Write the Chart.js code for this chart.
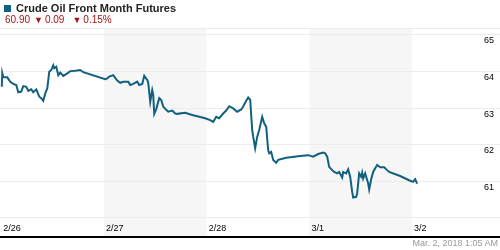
<!DOCTYPE html>
<html>
<head>
<meta charset="utf-8">
<script src="https://cdn.jsdelivr.net/npm/chart.js@4/dist/chart.umd.min.js"></script>
<style>
  html, body { margin: 0; padding: 0; background: #fff; }
  #wrap { position: relative; width: 500px; height: 250px; overflow: hidden; font-family: "Liberation Sans", Arial, sans-serif; }
  #c { position: absolute; left: 0; top: 0; }
  #title { position: absolute; left: 4px; top: 2px; font-size: 11px; font-weight: bold; color: #222; white-space: nowrap; }
  #title .sq { display: inline-block; width: 7px; height: 7px; background: #12607f; margin-right: 5px; vertical-align: 0px; }
  #quote { position: absolute; left: 5px; top: 14px; font-size: 10px; color: #aa1111; white-space: nowrap; }
  #quote .tri { font-size: 9px; margin: 0 2px 0 4px; }
  #sep { position: absolute; left: 0; top: 28px; width: 500px; height: 1px; background: #ececec; }
  #stamp { position: absolute; right: 2px; top: 238px; font-size: 9px; color: #999; white-space: nowrap; }
</style>
</head>
<body>
<div id="wrap">
  <canvas id="c" width="500" height="250"></canvas>
  <div id="sep"></div>
  <div id="title"><span class="sq"></span>Crude Oil Front Month Futures</div>
  <div id="quote">60.90<span class="tri">&#9660;</span>0.09<span class="tri" style="margin-left:8px">&#9660;</span>0.15%</div>
  <div id="stamp">Mar. 2, 2018 1:05 AM</div>
</div>
<script>
// Hours since 2/26 00:00
const hours = [0.12,0.23,0.47,1.40,2.10,2.80,3.50,3.97,4.67,5.14,5.84,6.31,7.01,7.48,8.18,8.88,9.34,9.81,10.28,10.75,11.21,11.68,12.15,12.38,12.85,13.32,13.78,14.48,15.42,16.12,17.29,18.45,19.16,24.30,24.76,25.23,26.16,27.10,27.80,28.50,29.67,30.14,30.84,31.77,32.24,32.94,33.41,34.11,34.34,34.81,35.27,35.51,35.74,36.21,36.91,37.38,37.84,38.54,39.01,39.95,40.65,41.11,42.98,44.62,47.65,48.82,49.52,50.22,50.92,51.86,52.56,53.26,54.19,55.13,56.06,56.53,57.23,57.70,58.17,58.63,58.87,59.33,59.80,60.27,60.97,61.44,61.90,62.37,62.61,63.07,63.54,64.24,64.71,66.58,69.85,71.72,72.88,74.05,75.22,75.69,76.16,76.62,77.32,77.79,78.49,78.96,79.66,79.89,80.59,81.06,81.53,81.99,82.23,82.93,83.16,83.63,84.10,84.33,84.57,85.03,85.50,85.73,85.97,86.44,86.90,87.37,87.84,88.54,89.47,90.17,90.64,93.21,95.54,96.24,96.71,97.18];
const prices = [63.58,63.96,63.85,63.84,63.72,63.66,63.63,63.43,63.45,63.60,63.58,63.47,63.51,63.43,63.51,63.31,63.27,63.20,63.40,63.54,63.99,64.04,64.17,64.09,64.13,63.90,63.97,63.88,63.95,64.01,64.02,64.04,63.98,63.79,63.81,63.86,63.90,63.75,63.69,63.72,63.72,63.63,63.66,63.72,63.63,63.66,63.88,63.77,63.69,63.17,63.49,63.36,62.84,62.97,63.27,63.22,63.04,62.95,62.90,62.93,62.85,62.84,62.87,62.81,62.72,62.67,62.62,62.76,62.72,62.85,62.93,63.05,62.99,62.90,62.96,63.04,63.20,63.29,63.22,62.40,62.21,61.90,62.21,62.40,62.76,62.58,62.49,61.85,61.76,61.80,61.58,61.50,61.58,61.64,61.69,61.71,61.67,61.74,61.78,61.76,61.67,61.39,61.30,61.25,61.21,61.25,61.10,61.25,61.21,61.32,61.12,60.71,60.55,60.57,60.66,61.21,61.12,61.23,61.07,61.21,61.03,60.94,60.77,61.05,61.25,61.35,61.44,61.38,61.38,61.30,61.25,61.14,61.01,60.98,61.05,60.93];
const dateLabels = ['2/26','2/27','2/28','3/1','3/2'];
const dayStarts = [0,24,48,72,96];
const shadedDays = [1,3];
const yTicks = [60,61,62,63,64,65];

const points = hours.map((h,i)=>({x:h,y:prices[i]}));

const bands = {
  id: 'bands',
  beforeDraw(chart) {
    const {ctx, chartArea, scales} = chart;
    ctx.save();
    ctx.fillStyle = '#f6f6f6';
    shadedDays.forEach(d => {
      const x0 = scales.x.getPixelForValue(dayStarts[d]);
      const x1 = scales.x.getPixelForValue(dayStarts[d] + 24);
      ctx.fillRect(x0, chartArea.top, x1 - x0, chartArea.bottom - chartArea.top);
    });
    ctx.restore();
  }
};

new Chart(document.getElementById('c'), {
  type: 'line',
  data: { datasets: [{ data: points, borderColor: '#12607f', borderWidth: 2, pointRadius: 0, tension: 0, fill: false }] },
  options: {
    responsive: false,
    animation: false,
    layout: { padding: { top: 28, bottom: 13, left: 0, right: 0 } },
    plugins: { legend: { display: false }, tooltip: { enabled: false } },
    scales: {
      x: {
        type: 'linear', position: 'bottom',
        min: -0.3, max: 116.54,
        afterBuildTicks(s) { s.ticks = dayStarts.map(v => ({value: v})); },
        afterFit(s) { s.height = 0; s.paddingLeft = 0; s.paddingRight = 0; },
        grid: { display: false },
        border: { display: true, color: '#000', width: 2 },
        ticks: {
          mirror: true, align: 'start', labelOffset: 2, padding: 3,
          color: '#000', font: { family: 'Liberation Sans', size: 9 },
          maxRotation: 0, autoSkip: false,
          callback: (v) => { const i = dayStarts.indexOf(v); return i >= 0 ? dateLabels[i] : ''; }
        }
      },
      y: {
        type: 'linear', position: 'right',
        min: 59.47, max: 65.19,
        afterBuildTicks(s) { s.ticks = yTicks.map(v => ({value: v})); },
        afterFit(s) { s.width = 0; },
        grid: { color: '#ececec', lineWidth: 1, drawTicks: false },
        border: { display: false },
        ticks: {
          mirror: true, padding: -6, labelOffset: 6,
          color: '#000', font: { family: 'Liberation Sans', size: 9 },
          callback: (v) => v === 60 ? '' : String(v)
        }
      }
    }
  },
  plugins: [bands]
});
</script>
</body>
</html>
